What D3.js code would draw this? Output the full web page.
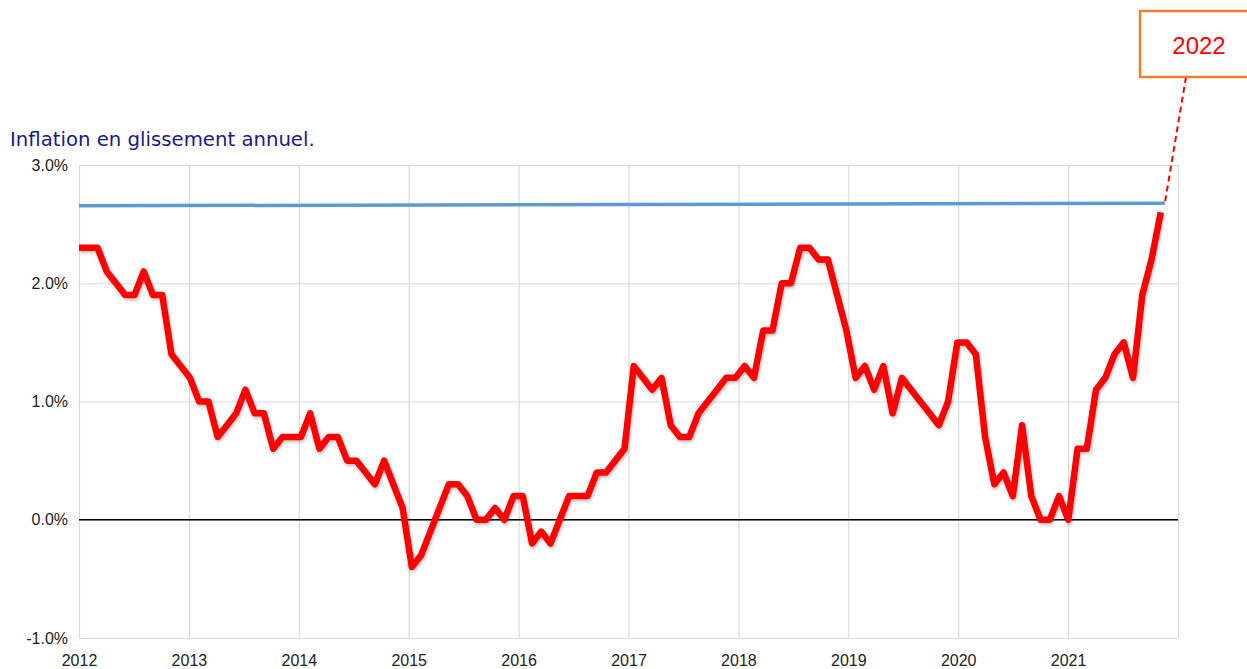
<!DOCTYPE html>
<html>
<head>
<meta charset="utf-8">
<script src="https://cdn.jsdelivr.net/npm/d3@7"></script>
<style>
  html, body { margin: 0; padding: 0; background: #fff; }
  svg { display: block; }
</style>
</head>
<body>
<svg id="chart" width="1247" height="669"></svg>
<script>
// ---- Data ----
const title = "Inflation en glissement annuel.";
const annotationLabel = "2022";
const firstMonth = "2012-01";
// monthly year-on-year inflation (%), Jan 2012 .. Oct 2021
const inflation = [
  2.3, 2.3, 2.3, 2.1, 2.0, 1.9, 1.9, 2.1, 1.9, 1.9, 1.4, 1.3,
  1.2, 1.0, 1.0, 0.7, 0.8, 0.9, 1.1, 0.9, 0.9, 0.6, 0.7, 0.7,
  0.7, 0.9, 0.6, 0.7, 0.7, 0.5, 0.5, 0.4, 0.3, 0.5, 0.3, 0.1,
  -0.4, -0.3, -0.1, 0.1, 0.3, 0.3, 0.2, 0.0, 0.0, 0.1, 0.0, 0.2,
  0.2, -0.2, -0.1, -0.2, 0.0, 0.2, 0.2, 0.2, 0.4, 0.4, 0.5, 0.6,
  1.3, 1.2, 1.1, 1.2, 0.8, 0.7, 0.7, 0.9, 1.0, 1.1, 1.2, 1.2,
  1.3, 1.2, 1.6, 1.6, 2.0, 2.0, 2.3, 2.3, 2.2, 2.2, 1.9, 1.6,
  1.2, 1.3, 1.1, 1.3, 0.9, 1.2, 1.1, 1.0, 0.9, 0.8, 1.0, 1.5,
  1.5, 1.4, 0.7, 0.3, 0.4, 0.2, 0.8, 0.2, 0.0, 0.0, 0.2, 0.0,
  0.6, 0.6, 1.1, 1.2, 1.4, 1.5, 1.2, 1.9, 2.2, 2.6
];
// reference (blue) line: start / end year positions and values
const refYears = [2012, 2021.88];
const refValues = [2.655, 2.677];
// axes
const xTicks = [2012, 2013, 2014, 2015, 2016, 2017, 2018, 2019, 2020, 2021, 2022];
const xTickLabels = ["2012", "2013", "2014", "2015", "2016", "2017", "2018", "2019", "2020", "2021", ""];
const yTicks = [-1, 0, 1, 2, 3];
const yTickLabels = ["-1.0%", "0.0%", "1.0%", "2.0%", "3.0%"];

// ---- Layout ----
const plot = { left: 79, right: 1178, top: 165, bottom: 638 };
const lastPointYear = 2021.843;

const svg = d3.select("#chart");

const x = d3.scaleLinear().domain([2012, 2022]).range([plot.left, plot.right]);
const xi = d3.scaleLinear().domain([0, inflation.length - 1]).range([x(2012), x(lastPointYear)]);
const y = d3.scaleLinear().domain([-1, 3]).range([plot.bottom, plot.top]);

// shadow filter
const defs = svg.append("defs");
const f = defs.append("filter").attr("id", "shadow").attr("x", "-5%").attr("y", "-5%").attr("width", "110%").attr("height", "120%");
f.append("feDropShadow").attr("dx", 1).attr("dy", 2).attr("stdDeviation", 1.5)
  .attr("flood-color", "#000").attr("flood-opacity", 0.25);

// Title
svg.append("text")
  .attr("x", 10).attr("y", 146)
  .attr("font-family", "DejaVu Sans, Verdana, sans-serif")
  .attr("font-size", 19.7)
  .attr("fill", "#1a1a8a")
  .text(title);

// Y axis with horizontal gridlines
const yAxis = d3.axisLeft(y)
  .tickValues(yTicks)
  .tickFormat((d, i) => yTickLabels[i])
  .tickSize(-(plot.right - plot.left))
  .tickPadding(11);
const gy = svg.append("g").attr("transform", `translate(${plot.left},0)`).call(yAxis);
gy.select(".domain").remove();
gy.selectAll(".tick line").attr("stroke", "#dadada").attr("stroke-width", 1.2);
gy.selectAll(".tick text")
  .attr("font-family", "Liberation Sans, Arial, sans-serif")
  .attr("font-size", 16)
  .attr("fill", "#222");

// X axis with vertical gridlines
const xAxis = d3.axisBottom(x)
  .tickValues(xTicks)
  .tickFormat((d, i) => xTickLabels[i])
  .tickSize(-(plot.bottom - plot.top))
  .tickPadding(17);
const gx = svg.append("g").attr("transform", `translate(0,${plot.bottom})`).call(xAxis);
gx.select(".domain").remove();
gx.selectAll(".tick line").attr("stroke", "#dadada").attr("stroke-width", 1.2);
gx.selectAll(".tick text")
  .attr("font-family", "Liberation Sans, Arial, sans-serif")
  .attr("font-size", 16)
  .attr("fill", "#222");

// zero line
svg.append("line")
  .attr("x1", plot.left).attr("x2", plot.right)
  .attr("y1", y(0)).attr("y2", y(0))
  .attr("stroke", "#000").attr("stroke-width", 1.3);

// reference blue line
svg.append("path")
  .datum(refYears.map((yr, i) => [yr, refValues[i]]))
  .attr("fill", "none")
  .attr("stroke", "#5b9bd5")
  .attr("stroke-width", 3.5)
  .attr("d", d3.line().x(d => x(d[0])).y(d => y(d[1])));

// inflation line
svg.append("path")
  .datum(inflation)
  .attr("fill", "none")
  .attr("stroke", "#ff0000")
  .attr("stroke-width", 6.5)
  .attr("stroke-linejoin", "round")
  .attr("filter", "url(#shadow)")
  .attr("d", d3.line().x((d, i) => xi(i)).y(d => y(d)));

// annotation box + dashed connector
const box = { x: 1140, y: 11, w: 120, h: 66 };
svg.append("line")
  .attr("x1", box.x + 46).attr("y1", box.y + box.h)
  .attr("x2", x(refYears[1])).attr("y2", y(refValues[1]))
  .attr("stroke", "#ff0000").attr("stroke-width", 2)
  .attr("stroke-dasharray", "6,4");
svg.append("rect")
  .attr("x", box.x).attr("y", box.y).attr("width", box.w).attr("height", box.h)
  .attr("fill", "#fff").attr("stroke", "#ed7d31").attr("stroke-width", 2.5);
svg.append("text")
  .attr("x", 1199).attr("y", 54)
  .attr("text-anchor", "middle")
  .attr("font-family", "Liberation Sans, Arial, sans-serif")
  .attr("font-size", 24)
  .attr("fill", "#ff0000")
  .text(annotationLabel);
</script>
</body>
</html>
